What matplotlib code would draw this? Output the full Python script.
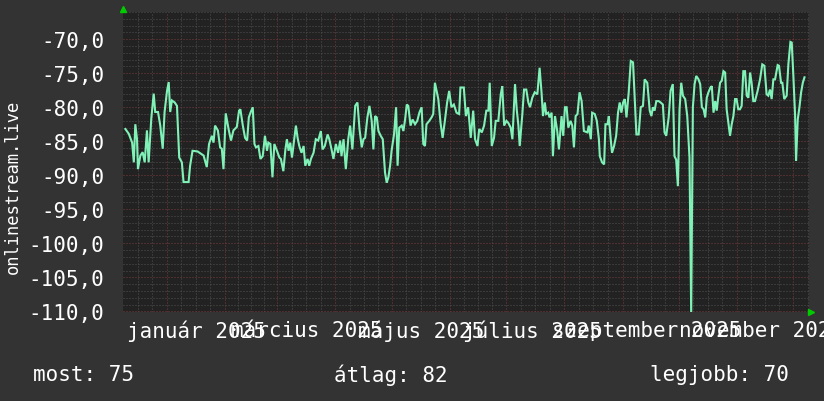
import matplotlib
matplotlib.use("Agg")
import matplotlib.pyplot as plt
import matplotlib.dates as mdates
from matplotlib.ticker import FixedLocator, FuncFormatter
from datetime import datetime, timedelta
import numpy as np

# ---- data (days relative to 2025-01-01, values) ----
days = [
    -22.0, -20.2, -18.4, -17.5, -16.7, -15.8, -15.3, -14.0, -12.8, -11.7, -10.5, -9.6, -8.2, -6.9, -6.1,
    -4.6, -3.4, -2.1, -1.1, 0.2, 1.1, 1.9, 2.8, 4.3, 5.5, 6.7, 8.1, 9.0, 10.8, 11.7, 12.5, 13.8, 16.5,
    19.7, 21.4, 22.6, 24.1, 25.0, 25.8, 27.3, 28.5, 29.4, 30.3, 31.5, 33.0, 34.3, 35.6, 37.4, 38.6,
    39.3, 40.6, 41.8, 42.9, 43.8, 44.7, 45.9, 46.8, 47.6, 48.9, 50.0, 51.2, 52.4, 53.5, 54.2, 55.3,
    56.4, 57.4, 58.8, 60.1, 60.9, 62.2, 63.3, 64.1, 65.0, 65.9, 66.8, 68.0, 68.9, 69.8, 70.7, 71.9,
    73.0, 73.9, 75.1, 76.0, 76.9, 78.3, 79.5, 80.8, 82.2, 83.1, 84.3, 85.8, 86.7, 87.9, 88.9, 90.2,
    91.4, 92.5, 93.2, 94.3, 95.5, 96.8, 97.8, 99.0,
    100.5, 101.7, 102.8, 104.0, 104.9, 105.8, 107.0, 108.1, 109.3, 110.2, 111.1, 112.0, 112.9, 114.1,
    115.2, 116.4, 117.3, 118.2, 119.1, 119.9, 121.2, 122.3, 123.1, 124.0, 125.3, 126.2, 127.1, 128.0,
    128.8, 130.0, 131.1, 132.4, 133.6, 134.7, 135.9, 136.8, 137.7, 138.5, 140.0, 141.2, 142.1, 143.0,
    143.9, 144.8, 146.0, 147.1, 148.3, 149.5, 150.6, 151.8, 153.1, 154.5, 155.9, 156.6, 158.4, 159.5,
    160.7,
    162.1, 163.4, 164.4, 165.7, 166.6, 168.0, 169.2, 170.4, 171.5, 172.2, 173.3, 174.5, 175.4, 176.8,
    178.1, 178.9, 179.9, 181.1, 182.1, 183.4, 184.3, 185.7, 186.6, 187.5, 188.2, 189.6, 190.5, 191.7,
    192.8, 193.7, 194.9, 196.2, 197.6, 198.8, 199.9, 200.6, 201.6, 202.3, 203.4, 204.1, 205.2, 205.9,
    207.0, 208.2, 209.1, 210.5, 211.4, 212.3, 213.2, 214.1, 215.3, 216.2, 217.1, 218.0, 219.0, 220.1,
    221.2, 222.4,
    224.3, 225.0, 226.1, 226.8, 228.2, 229.3, 230.4, 230.9, 232.1, 233.2, 233.9, 235.0, 235.7, 236.7,
    237.4, 238.5, 239.6, 240.6, 241.5, 242.4, 243.3, 244.2, 245.1, 246.3, 247.4, 248.6, 249.5, 250.4,
    251.6, 252.7, 253.9, 254.8, 256.2, 257.5, 258.4, 259.2, 260.1, 261.0, 262.3, 263.3, 264.5, 265.4,
    266.3, 267.6, 268.6, 269.8, 270.7, 271.6, 272.5, 273.4, 274.3, 275.2, 276.4, 277.5, 278.7, 279.6,
    280.5, 281.4, 282.3, 283.5,
    284.4, 285.3, 286.2, 287.1, 287.9, 288.8, 289.9, 290.6, 291.5, 292.4, 293.2, 294.1, 295.0, 295.9,
    296.8, 297.7, 298.5, 299.4, 300.3, 301.2, 302.1, 303.0, 303.8, 304.7, 305.6, 306.5, 307.4, 308.3,
    309.2, 310.1, 311.0, 311.8, 312.7, 313.6, 315.0, 316.3, 317.5, 318.6, 319.8, 320.7, 321.6, 322.5,
    323.4, 324.3, 325.7, 326.4, 327.5, 328.2, 329.2, 330.5, 331.4, 332.5, 333.2, 334.1, 335.0, 335.5,
    336.4, 337.3, 338.2, 339.1, 340.0,
]
values = [
    -83.2, -83.9, -85.2, -88.1, -82.5, -84.7, -89.1, -87.1, -86.6, -88.1, -83.4, -88.1, -81.7, -78.0, -80.7,
    -80.7, -82.7, -86.1, -80.7, -77.6, -76.3, -80.7, -79.0, -79.3, -79.8, -87.4, -88.1, -91.0, -91.0, -91.0, -88.6, -86.4, -86.5,
    -87.1, -88.8, -85.4, -84.2, -85.2, -82.7, -83.4, -85.9, -86.1, -89.1, -80.9, -83.2, -84.9, -83.4, -82.9, -80.5,
    -80.3, -82.7, -84.5, -84.9, -81.5, -80.8, -80.0, -85.4, -85.9, -85.7, -87.6, -87.2, -84.2, -86.4, -85.2, -85.4,
    -90.3, -85.4, -86.4, -87.4, -87.6, -89.4, -86.2, -84.7, -86.4, -85.2, -87.4, -84.7, -82.7, -84.5, -85.7, -86.7,
    -85.7, -88.6, -87.6, -88.6, -87.6, -86.7, -84.7, -84.9, -83.5, -86.2, -85.7, -84.0, -84.7, -86.2, -87.6, -85.4,
    -86.7, -84.9, -87.2, -84.7, -89.1, -84.7, -82.7, -86.2,
    -79.8, -79.3, -83.2, -85.9, -84.7, -84.5, -81.5, -79.8, -82.0, -86.2, -81.3, -81.5, -83.5, -84.2,
    -84.7, -89.6, -91.1, -90.3, -88.6, -86.4, -84.0, -80.0, -88.6, -83.0, -82.7, -83.5, -81.8, -79.6,
    -79.8, -82.7, -81.8, -82.5, -82.0, -80.8, -80.0, -85.4, -85.7, -82.5, -82.0, -81.5, -81.0, -76.4,
    -77.6, -78.8, -82.3, -84.5, -82.0, -79.3, -77.6, -80.0, -79.6, -80.8, -81.0, -77.1, -77.1, -81.3,
    -80.0,
    -84.5, -80.5, -84.7, -85.7, -83.2, -83.7, -82.7, -80.5, -80.5, -76.4, -85.7, -84.5, -82.0, -82.0,
    -78.1, -76.9, -82.7, -82.0, -82.3, -83.0, -84.7, -76.6, -80.3, -82.7, -85.7, -81.0, -77.4, -77.4,
    -79.3, -80.0, -78.6, -77.8, -78.1, -74.2, -78.1, -81.3, -79.3, -81.0, -80.8, -81.5, -80.8, -87.2,
    -81.3, -83.5, -86.2, -81.3, -84.2, -80.0, -80.0, -83.0, -82.0, -82.7, -85.9, -81.3, -81.0, -77.8,
    -79.1, -83.5,
    -83.7, -82.7, -84.7, -80.8, -81.0, -82.0, -84.7, -87.2, -88.1, -88.4, -82.5, -82.5, -81.3, -84.7,
    -86.7, -85.7, -84.2, -80.8, -79.3, -80.8, -79.3, -78.8, -81.5, -77.8, -73.2, -73.4, -78.8, -84.0,
    -84.0, -80.0, -79.8, -75.9, -76.4, -80.5, -81.3, -80.0, -80.5, -79.1, -79.1, -79.3, -79.6, -83.7,
    -84.2, -81.5, -77.6, -76.6, -87.2, -87.7, -91.6, -80.3, -76.4, -78.3, -78.8, -81.3, -87.4, -110.4,
    -80.0, -76.6, -75.4, -75.9,
    -76.6, -80.0, -80.3, -81.5, -78.6, -77.8, -77.1, -76.9, -80.8, -79.1, -80.5, -78.3, -76.4, -76.1,
    -74.7, -74.9, -80.3, -82.3, -84.2, -82.5, -81.3, -78.8, -78.8, -80.3, -80.3, -79.8, -74.7, -74.7,
    -78.3, -78.6, -74.9, -76.4, -79.1, -79.1, -77.6, -75.9, -73.7, -73.9, -78.1, -78.3, -77.4, -78.8,
    -75.9, -75.9, -73.8, -73.9, -76.4, -76.4, -78.8, -78.3, -73.7, -70.4, -70.5, -75.6, -81.3, -87.9,
    -81.8, -80.0, -77.8, -76.4, -75.6,
]

y_ticks = [-70, -75, -80, -85, -90, -95, -100, -105, -110]
month_labels = ["január 2025", "március 2025", "május 2025", "július 2025",
                "szeptember 2025", "november 2025"]
month_label_left_days = [-21.1, 34.2, 102.2, 158.1, 205.4, 272.9]
y_title = "onlinestream.live"
stats_text = ["most: 75", "átlag: 82", "legjobb: 70"]

# ---- style ----
BG = "#333333"
PLOT_BG = "#222222"
MINOR = "#505050"
MAJOR = "#7a3a3a"
LINE = "#80f2b8"
TXT = "#ffffff"
FONT = "DejaVu Sans Mono"
FS = 15

base = datetime(2025, 1, 1)
base_num = mdates.date2num(base)
x = base_num + np.array(days)
y = np.array(values)

fig = plt.figure(figsize=(8.24, 4.02), dpi=100, facecolor=BG)
ax = fig.add_axes([123.5 / 824, 1 - 313 / 402, 685.5 / 824, 300 / 402])
ax.set_facecolor(PLOT_BG)

ax.set_xlim(base_num - 23.0, base_num + 342.4)
ax.set_ylim(-110.1, -66.0)

# grid: major at month starts, minor at quarter-month divisions
month_dates = [datetime(2024, 12, 1)] + [datetime(2025, m, 1) for m in range(1, 13)] + [datetime(2026, 1, 1)]
month_starts = [mdates.date2num(d) for d in month_dates]
minor_pos = []
for a, b in zip(month_starts[:-1], month_starts[1:]):
    for k in (1, 2, 3):
        minor_pos.append(a + (b - a) * k / 4.0)
ax.xaxis.set_major_locator(FixedLocator(month_starts))
ax.xaxis.set_minor_locator(FixedLocator(minor_pos))
ax.yaxis.set_major_locator(FixedLocator(y_ticks))
ax.yaxis.set_minor_locator(FixedLocator(list(range(-110, -65))))
ax.grid(which="minor", color=MINOR, linestyle=(0, (1, 2)), linewidth=0.72)
ax.grid(which="major", color=MAJOR, linestyle=(0, (1, 2)), linewidth=0.72)
ax.set_axisbelow(True)

ax.plot(x, y, color=LINE, linewidth=1.5, solid_joinstyle="miter", zorder=3)

for s in ax.spines.values():
    s.set_visible(False)

ax.tick_params(axis="both", which="both", length=0)
ax.set_xticklabels([])
ax.yaxis.set_major_formatter(FuncFormatter(lambda v, p: f"{v:.1f}".replace(".", ",")))
ax.tick_params(axis="y", labelsize=FS, labelcolor=TXT, pad=14)
for lab in ax.get_yticklabels():
    lab.set_fontfamily(FONT)

# month labels
trans = matplotlib.transforms.blended_transform_factory(ax.transData, ax.transAxes)
for lab, d in zip(month_labels, month_label_left_days):
    ax.text(base_num + d, -0.06, lab, transform=trans, ha="left", va="center",
            fontsize=FS, family=FONT, color=TXT, clip_on=False)

# axis arrows
ax.plot([0], [1.01], marker="^", markersize=5, color="#00cc00", transform=ax.transAxes, clip_on=False)
ax.plot([1.003], [0], marker=">", markersize=5, color="#00cc00", transform=ax.transAxes, clip_on=False)

fig.text(13 / 824, 1 - 187 / 402, y_title, rotation=90, ha="center", va="center",
         fontsize=12.3, family=FONT, color=TXT)

for t, xl in zip(stats_text, [33, 334, 650]):
    fig.text(xl / 824, 1 - 375 / 402, t, ha="left", va="center", fontsize=FS, family=FONT, color=TXT)

fig.savefig("out.png", dpi=100, facecolor=BG)
